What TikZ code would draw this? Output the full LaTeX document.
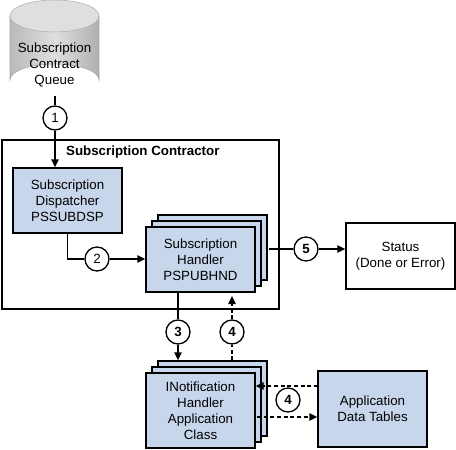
\documentclass[tikz,border=0pt]{standalone}
\usepackage{fontspec}
\setmainfont{Liberation Sans}
\usetikzlibrary{arrows.meta}
\definecolor{boxblue}{RGB}{200,214,236}
\begin{document}
\begin{tikzpicture}[x=0.75pt,y=-0.75pt,
  font=\fontsize{10}{12}\selectfont, line width=1pt,
  >={Triangle[length=6pt,width=5.5pt]},
  bluebox/.style={draw, fill=boxblue, align=center, inner sep=0pt, minimum width=81.75pt},
  whitebox/.style={draw, fill=white, align=center, inner sep=0pt, minimum width=81.75pt},
  numc/.style={draw, circle, fill=white, minimum size=18pt, inner sep=0pt},
  dsh/.style={densely dashed}]
\useasboundingbox (0,0) rectangle (456,449);

% queue cylinder
\shade[left color=gray!55, right color=gray!62, middle color=gray!25, draw=gray!70, line width=0.4pt]
  (10,16) -- (10,80) arc[start angle=180, end angle=360, x radius=44.5, y radius=16] -- (99,16) -- cycle;
\fill[gray!25, draw=gray!65, line width=0.4pt] (54.5,16) ellipse[x radius=44.5, y radius=16];
\node[align=center] (queue) at (54.5,65) {Subscription\\Contract\\Queue};
\coordinate (qbot) at (55,96);

% contractor frame
\node[draw, minimum width=207.75pt, minimum height=126.75pt, inner sep=0pt] (contr) at (140.5,224.5) {};
\node[anchor=west, font=\fontsize{10}{12}\selectfont\bfseries] (ctitle) at (61,152) {Subscription Contractor};

% dispatcher
\node[bluebox, minimum height=48.75pt] (disp) at (67.5,200.5) {Subscription\\Dispatcher\\PSSUBDSP};

% handler stack
\node[bluebox, minimum height=48.75pt] (hand3) at (212.5,247.5) {};
\node[bluebox, minimum height=48.75pt] (hand2) at (206.5,253.5) {};
\node[bluebox, minimum height=48.75pt] (hand) at (200.5,259.5) {Subscription\\Handler\\PSPUBHND};

% status
\node[whitebox, minimum height=49.5pt] (status) at (400.5,256) {Status\\(Done or Error)};

% notification stack
\node[bluebox, minimum height=56.25pt] (inote3) at (212.5,398.5) {};
\node[bluebox, minimum height=56.25pt] (inote2) at (206.5,404.5) {};
\node[bluebox, minimum height=56.25pt] (inote) at (200.5,410.5) {INotification\\Handler\\Application\\Class};

% application data tables
\node[bluebox, minimum height=57pt] (app) at (372.5,409) {Application\\Data Tables};

% number circles
\node[numc] (c1) at (55,118) {1};
\node[numc] (c2) at (97,259) {2};
\node[numc, font=\fontsize{10}{12}\selectfont\bfseries] (c5) at (306,249) {5};
\node[numc, font=\fontsize{10}{12}\selectfont\bfseries] (c3) at (178,332) {3};
\node[numc, font=\fontsize{10}{12}\selectfont\bfseries] (c4a) at (232,332) {4};
\node[numc, font=\fontsize{10}{12}\selectfont\bfseries] (c4b) at (288,400) {4};

% connectors
\draw (qbot) -- (c1);
\draw[->] (c1) -- (c1 |- disp.north);
\draw (disp.south) |- (c2.west);
\draw[->] (c2) -- (hand.west |- c2);
\coordinate (s5) at (269,249);
\draw (s5) -- (c5);
\draw[->] (c5) -- (status.west |- c5);
\draw (c3 |- hand.south) -- (c3);
\draw[->] (c3) -- (c3 |- inote3.north);
\draw[dsh] (c4a |- inote3.north) -- (c4a);
\draw[dsh,->] (c4a) -- ([yshift=-2.5pt]c4a |- hand.south);
\coordinate (a1) at (318,386);
\draw[dsh,->] (a1) -- (inote.east |- a1);
\coordinate (a2) at (257,417);
\draw[dsh,->] (a2) -- (app.west |- a2);
\end{tikzpicture}
\end{document}
